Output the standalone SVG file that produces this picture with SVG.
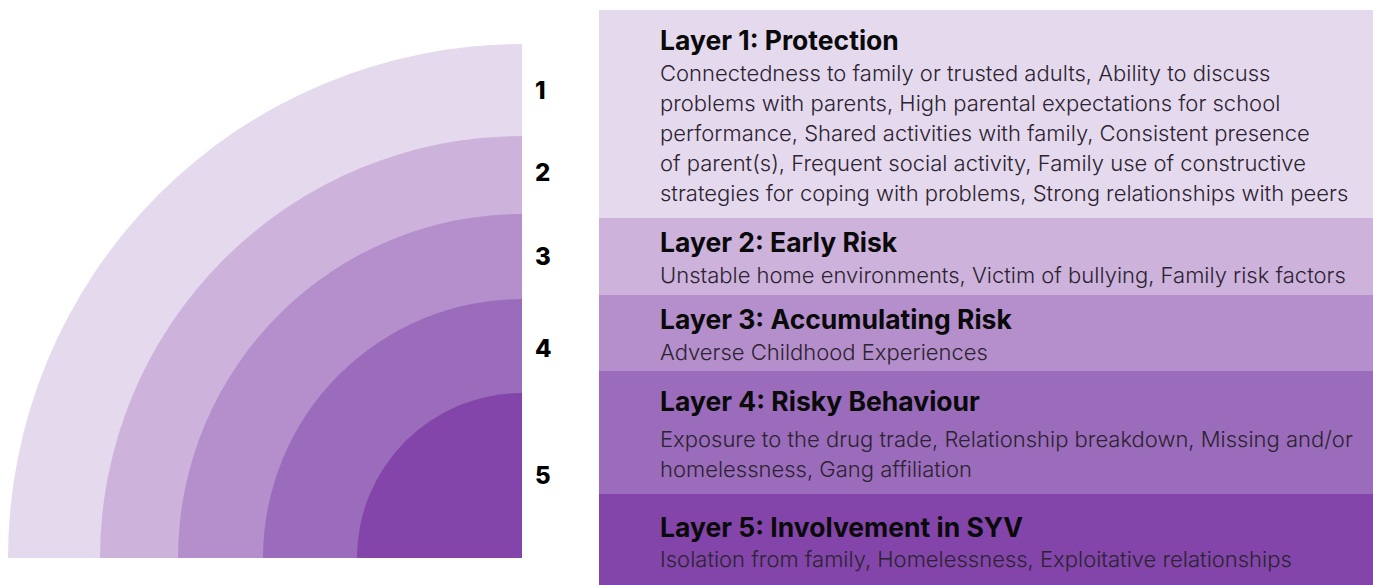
<svg xmlns="http://www.w3.org/2000/svg" width="1373" height="585" viewBox="0 0 1373 585">
<style>
.num{font-family:Inter,"Liberation Sans",sans-serif;font-weight:800;font-size:24px;fill:#000}
.t{font-family:Inter,"Liberation Sans",sans-serif;font-weight:700;font-size:26.5px;fill:#0a0a0a}
.b{font-family:Inter,"Liberation Sans",sans-serif;font-weight:300;font-size:22px;fill:#2b2330}
</style>
<rect width="1373" height="585" fill="#fff"/>
<g id="arcs">
<path d="M522 558 L8 558 A514 514 0 0 1 522 44 Z" fill="#e5d9ee"/>
<path d="M522 558 L100 558 A422 422 0 0 1 522 136 Z" fill="#cdb3dc"/>
<path d="M522 558 L178 558 A344 344 0 0 1 522 214 Z" fill="#b48fcb"/>
<path d="M522 558 L263 558 A259 259 0 0 1 522 299 Z" fill="#9b6cbb"/>
<path d="M522 558 L357 558 A165 165 0 0 1 522 393 Z" fill="#8345aa"/>
</g>
<g id="numbers">
<text class="num" x="535" y="99">1</text>
<text class="num" x="535" y="181">2</text>
<text class="num" x="535" y="265">3</text>
<text class="num" x="535" y="357">4</text>
<text class="num" x="535" y="484">5</text>
</g>
<g id="layer1">
<rect x="599" y="10" width="774" height="208" fill="#e5d9ee"/>
<text class="t" x="660" y="50">Layer 1: Protection</text>
<text class="b" x="660" y="81">Connectedness to family or trusted adults, Ability to discuss</text>
<text class="b" x="660" y="111">problems with parents, High parental expectations for school</text>
<text class="b" x="660" y="141">performance, Shared activities with family, Consistent presence</text>
<text class="b" x="660" y="171">of parent(s), Frequent social activity, Family use of constructive</text>
<text class="b" x="660" y="201">strategies for coping with problems, Strong relationships with peers</text>
</g>
<g id="layer2">
<rect x="599" y="218" width="774" height="77" fill="#cdb3dc"/>
<text class="t" x="660" y="252">Layer 2: Early Risk</text>
<text class="b" x="660" y="283">Unstable home environments, Victim of bullying, Family risk factors</text>
</g>
<g id="layer3">
<rect x="599" y="295" width="774" height="76" fill="#b48fcb"/>
<text class="t" x="660" y="329">Layer 3: Accumulating Risk</text>
<text class="b" x="660" y="360">Adverse Childhood Experiences</text>
</g>
<g id="layer4">
<rect x="599" y="371" width="774" height="123" fill="#9b6cbb"/>
<text class="t" x="660" y="411">Layer 4: Risky Behaviour</text>
<text class="b" x="660" y="447">Exposure to the drug trade, Relationship breakdown, Missing and/or</text>
<text class="b" x="660" y="477">homelessness, Gang affiliation</text>
</g>
<g id="layer5">
<rect x="599" y="494" width="774" height="91" fill="#8345aa"/>
<text class="t" x="660" y="537">Layer 5: Involvement in SYV</text>
<text class="b" x="660" y="567">Isolation from family, Homelessness, Exploitative relationships</text>
</g>
</svg>
